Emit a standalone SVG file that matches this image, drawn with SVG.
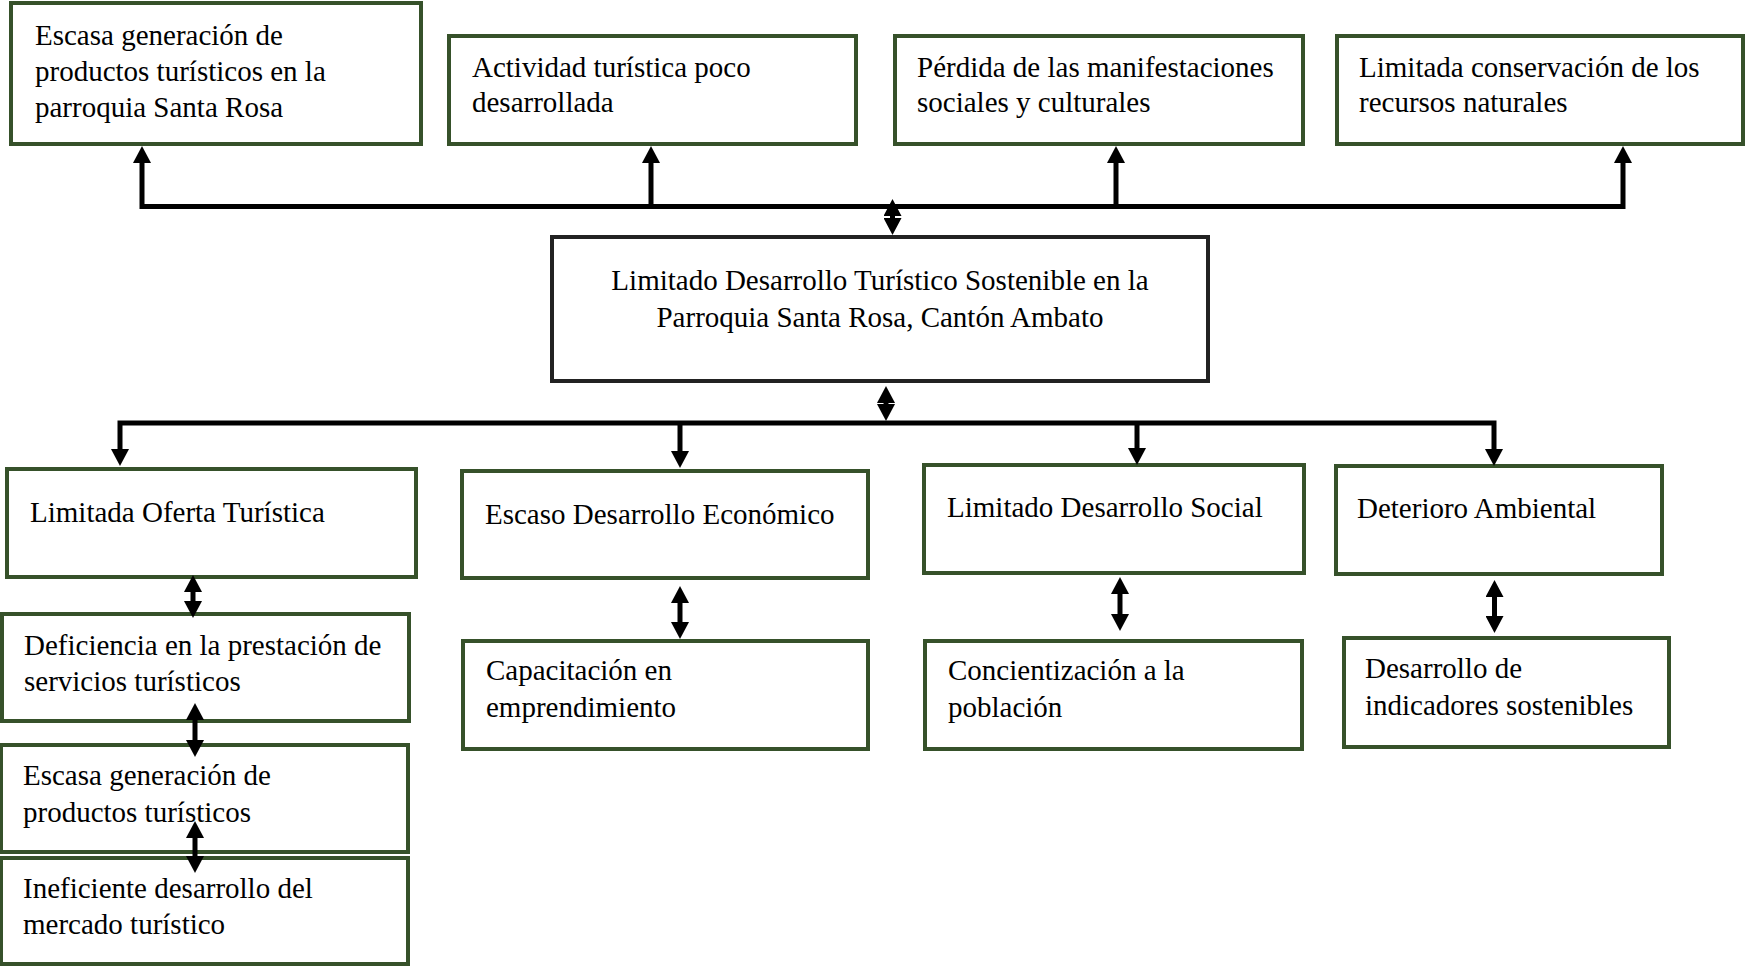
<svg xmlns="http://www.w3.org/2000/svg" width="1746" height="966" viewBox="0 0 1746 966">
<style>
.box{fill:#fff;stroke:#36512a;stroke-width:4}
.main{fill:#fff;stroke:#222;stroke-width:4}
.t{font-family:"Liberation Serif","Times New Roman",serif;font-size:29px;fill:#000}
.c{fill:none;stroke:#000;stroke-width:5}
.ar{marker-end:url(#ah)}
.dbl{marker-start:url(#ah);marker-end:url(#ah)}
</style>
<defs>
<marker id="ah" viewBox="0 0 17 18" refX="0" refY="9" markerWidth="17" markerHeight="18" markerUnits="userSpaceOnUse" orient="auto-start-reverse">
<path d="M0,0 L17,9 L0,18 z" fill="#000"/>
</marker>
</defs>
<rect width="1746" height="966" fill="#fff"/>
<g id="n-efecto1"><rect class="box" x="11" y="3" width="410" height="141"/><text class="t" x="35" y="45">Escasa generación de</text><text class="t" x="35" y="81">productos turísticos en la</text><text class="t" x="35" y="117">parroquia Santa Rosa</text></g>
<g id="n-efecto2"><rect class="box" x="449" y="36" width="407" height="108"/><text class="t" x="472" y="77">Actividad turística poco</text><text class="t" x="472" y="112">desarrollada</text></g>
<g id="n-efecto3"><rect class="box" x="895" y="36" width="408" height="108"/><text class="t" x="917" y="77">Pérdida de las manifestaciones</text><text class="t" x="917" y="112">sociales y culturales</text></g>
<g id="n-efecto4"><rect class="box" x="1337" y="36" width="406" height="108"/><text class="t" x="1359" y="77">Limitada conservación de los</text><text class="t" x="1359" y="112">recursos naturales</text></g>
<g id="n-problema"><rect class="main" x="552" y="237" width="656" height="144"/><text class="t" x="880" y="290" text-anchor="middle">Limitado Desarrollo Turístico Sostenible en la</text><text class="t" x="880" y="326.5" text-anchor="middle">Parroquia Santa Rosa, Cantón Ambato</text></g>
<g id="n-causa1"><rect class="box" x="7" y="469" width="409" height="108"/><text class="t" x="30" y="522">Limitada Oferta Turística</text></g>
<g id="n-causa2"><rect class="box" x="462" y="471" width="406" height="107"/><text class="t" x="485" y="524">Escaso Desarrollo Económico</text></g>
<g id="n-causa3"><rect class="box" x="924" y="465" width="380" height="108"/><text class="t" x="947" y="517">Limitado Desarrollo Social</text></g>
<g id="n-causa4"><rect class="box" x="1336" y="466" width="326" height="108"/><text class="t" x="1357" y="518">Deterioro Ambiental</text></g>
<g id="n-deficiencia"><rect class="box" x="2" y="614" width="407" height="107"/><text class="t" x="24" y="654.5">Deficiencia en la prestación de</text><text class="t" x="24" y="690.5">servicios turísticos</text></g>
<g id="n-escasa"><rect class="box" x="1" y="745" width="407" height="107"/><text class="t" x="23" y="784.5">Escasa generación de</text><text class="t" x="23" y="821.5">productos turísticos</text></g>
<g id="n-ineficiente"><rect class="box" x="1" y="858" width="407" height="106"/><text class="t" x="23" y="898">Ineficiente desarrollo del</text><text class="t" x="23" y="934">mercado turístico</text></g>
<g id="n-capacitacion"><rect class="box" x="463" y="641" width="405" height="108"/><text class="t" x="486" y="680">Capacitación en</text><text class="t" x="486" y="716.5">emprendimiento</text></g>
<g id="n-concientizacion"><rect class="box" x="925" y="641" width="377" height="108"/><text class="t" x="948" y="680">Concientización a la</text><text class="t" x="948" y="716.5">población</text></g>
<g id="n-indicadores"><rect class="box" x="1344" y="638" width="325" height="109"/><text class="t" x="1365" y="678">Desarrollo de</text><text class="t" x="1365" y="715">indicadores sostenibles</text></g>
<g id="connectors">
<path class="c dbl" d="M142,163 V206.5 H1623 V163" stroke-linejoin="miter"/>
<path class="c ar" d="M651,206.5 V163"/>
<path class="c ar" d="M1116,206.5 V163"/>
<path class="c dbl" d="M892.5,216 V218"/>
<path class="c dbl" d="M886,403 V404"/>
<path class="c dbl" d="M120,449 V423 H1494 V449" stroke-linejoin="miter"/>
<path class="c ar" d="M680,423 V451"/>
<path class="c ar" d="M1137,423 V448"/>
<path class="c dbl" d="M193,592 V601"/>
<path class="c dbl" d="M680,603 V622"/>
<path class="c dbl" d="M1120,594 V614"/>
<path class="c dbl" d="M1494.5,597 V616"/>
<path class="c dbl" d="M195,720 V740"/>
<path class="c dbl" d="M195,838 V856"/>
</g>
</svg>
